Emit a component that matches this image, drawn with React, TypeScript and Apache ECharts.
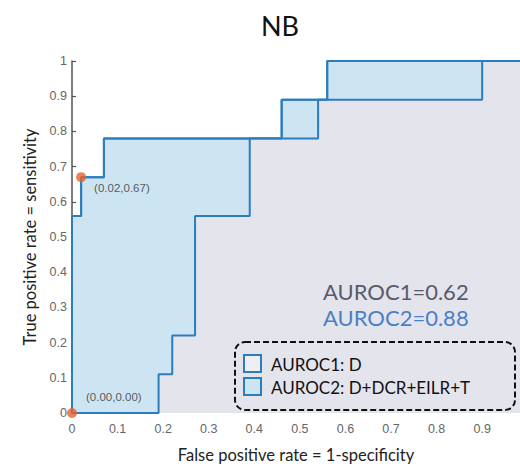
import React, { useEffect, useRef } from "react";
import * as echarts from "echarts";

const titleText = "NB";
const xTicks = [0, 0.1, 0.2, 0.3, 0.4, 0.5, 0.6, 0.7, 0.8, 0.9];
// ROC curve 1: D
const roc1X = [0, 0.19, 0.19, 0.22, 0.22, 0.27, 0.27, 0.39, 0.39, 0.54, 0.54, 0.9, 0.9, 1];
const roc1Y = [0, 0, 0.11, 0.11, 0.22, 0.22, 0.56, 0.56, 0.78, 0.78, 0.89, 0.89, 1, 1];
// ROC curve 2: D+DCR+EILR+T
const roc2X = [0, 0, 0.02, 0.02, 0.07, 0.07, 0.46, 0.46, 0.56, 0.56, 1];
const roc2Y = [0, 0.56, 0.56, 0.67, 0.67, 0.78, 0.78, 0.89, 0.89, 1, 1];
const markX = [0.02, 0];
const markY = [0.67, 0];
const markLabels = ["(0.02,0.67)", "(0.00,0.00)"];
const aurocTexts = ["AUROC1=0.62", "AUROC2=0.88"];
const legendTexts = ["AUROC1: D", "AUROC2: D+DCR+EILR+T"];

const LINE = "#2c7dbd";
const BLUEFILL = "#cde4f2";
const LAVENDER = "#e4e4ec";

export default function App() {
  const ref = useRef<HTMLDivElement>(null);
  useEffect(() => {
    if (!ref.current) return;
    const chart = echarts.init(ref.current, undefined, { renderer: "svg" });
    const pairs = (xs: number[], ys: number[]) => xs.map((x, i) => [x, ys[i]]);
    chart.setOption({
      animation: false,
      backgroundColor: "#ffffff",
      title: {
        text: titleText,
        left: 275,
        top: 7,
        textAlign: "center",
        textStyle: { fontFamily: "Lato", fontSize: 27, fontWeight: "normal", color: "#111" },
      },
      grid: { left: 72, right: 0, top: 61, bottom: 48 },
      xAxis: {
        type: "value",
        min: 0,
        max: 0.983,
        interval: 0.1,
        axisLine: { show: false },
        axisTick: { show: false },
        splitLine: { show: false },
        axisLabel: {
          show: true,
          margin: 9,
          showMaxLabel: false,
          color: "#666",
          fontFamily: "Liberation Sans",
          fontSize: 12.5,
          formatter: (v: number) => (xTicks.some((t) => Math.abs(t - v) < 1e-6) ? String(Math.round(v * 10) / 10) : ""),
        },
        name: "False positive rate = 1-specificity",
        nameLocation: "middle",
        nameGap: 33,
        nameTextStyle: { fontFamily: "Lato", fontSize: 16.5, color: "#222" },
      },
      yAxis: {
        type: "value",
        min: 0,
        max: 1,
        interval: 0.1,
        axisLine: { show: true, lineStyle: { color: "#555", width: 1.5 } },
        axisTick: { show: true, inside: true, length: 4, lineStyle: { color: "#555", width: 1.2 } },
        splitLine: { show: false },
        axisLabel: {
          margin: 5,
          color: "#666",
          fontFamily: "Liberation Sans",
          fontSize: 12.5,
          formatter: (v: number) => String(Math.round(v * 10) / 10),
        },
        name: "True positive rate = sensitivity",
        nameLocation: "middle",
        nameGap: 31,
        nameTextStyle: { fontFamily: "Lato", fontSize: 16.5, color: "#222" },
      },
      series: [
        {
          type: "line",
          data: pairs(roc2X, roc2Y),
          showSymbol: false,
          lineStyle: { color: LINE, width: 2 },
          areaStyle: { color: BLUEFILL, opacity: 1 },
          z: 2,
        },
        {
          type: "line",
          data: pairs(roc1X, roc1Y),
          showSymbol: false,
          lineStyle: { color: LINE, width: 2 },
          areaStyle: { color: LAVENDER, opacity: 1 },
          z: 3,
        },
        {
          type: "line",
          data: pairs(roc2X, roc2Y),
          showSymbol: false,
          lineStyle: { color: LINE, width: 2 },
          z: 4,
        },
        {
          type: "scatter",
          clip: false,
          z: 6,
          symbolSize: 10,
          itemStyle: { color: "#e8602c" },
          data: markX.map((x, i) => ({
            value: [x, markY[i]],
            label: {
              show: true,
              formatter: markLabels[i],
              position: "right",
              offset: i === 0 ? [3, 11] : [4, -16],
              color: "#333",
              fontFamily: "Liberation Sans",
              fontSize: 11.5,
            },
          })),
        },
      ],
      graphic: [
        {
          type: "text",
          x: 323,
          y: 291,
          z: 10,
          style: { text: aurocTexts[0], fill: "#595b6c", fontFamily: "Lato", fontSize: 22, verticalAlign: "middle" },
        },
        {
          type: "text",
          x: 323,
          y: 317,
          z: 10,
          style: { text: aurocTexts[1], fill: "#4a80c6", fontFamily: "Lato", fontSize: 22, verticalAlign: "middle" },
        },
        {
          type: "rect",
          z: 10,
          shape: { x: 235, y: 342, width: 280, height: 68, r: 10 },
          style: { fill: "none", stroke: "#111", lineWidth: 2, lineDash: [6, 3] },
        },
        {
          type: "rect",
          z: 10,
          shape: { x: 244, y: 355, width: 17, height: 17 },
          style: { fill: "#eeeef3", stroke: LINE, lineWidth: 2 },
        },
        {
          type: "rect",
          z: 10,
          shape: { x: 244, y: 378, width: 17, height: 17 },
          style: { fill: BLUEFILL, stroke: LINE, lineWidth: 2 },
        },
        {
          type: "text",
          x: 271,
          y: 364,
          z: 10,
          style: { text: legendTexts[0], fill: "#111", fontFamily: "Lato", fontSize: 17, verticalAlign: "middle" },
        },
        {
          type: "text",
          x: 271,
          y: 387,
          z: 10,
          style: { text: legendTexts[1], fill: "#111", fontFamily: "Lato", fontSize: 17, verticalAlign: "middle" },
        },
      ],
    });
    return () => chart.dispose();
  }, []);
  return <div ref={ref} style={{ width: 520, height: 468, position: "absolute", left: 0, top: 0 }} />;
}
